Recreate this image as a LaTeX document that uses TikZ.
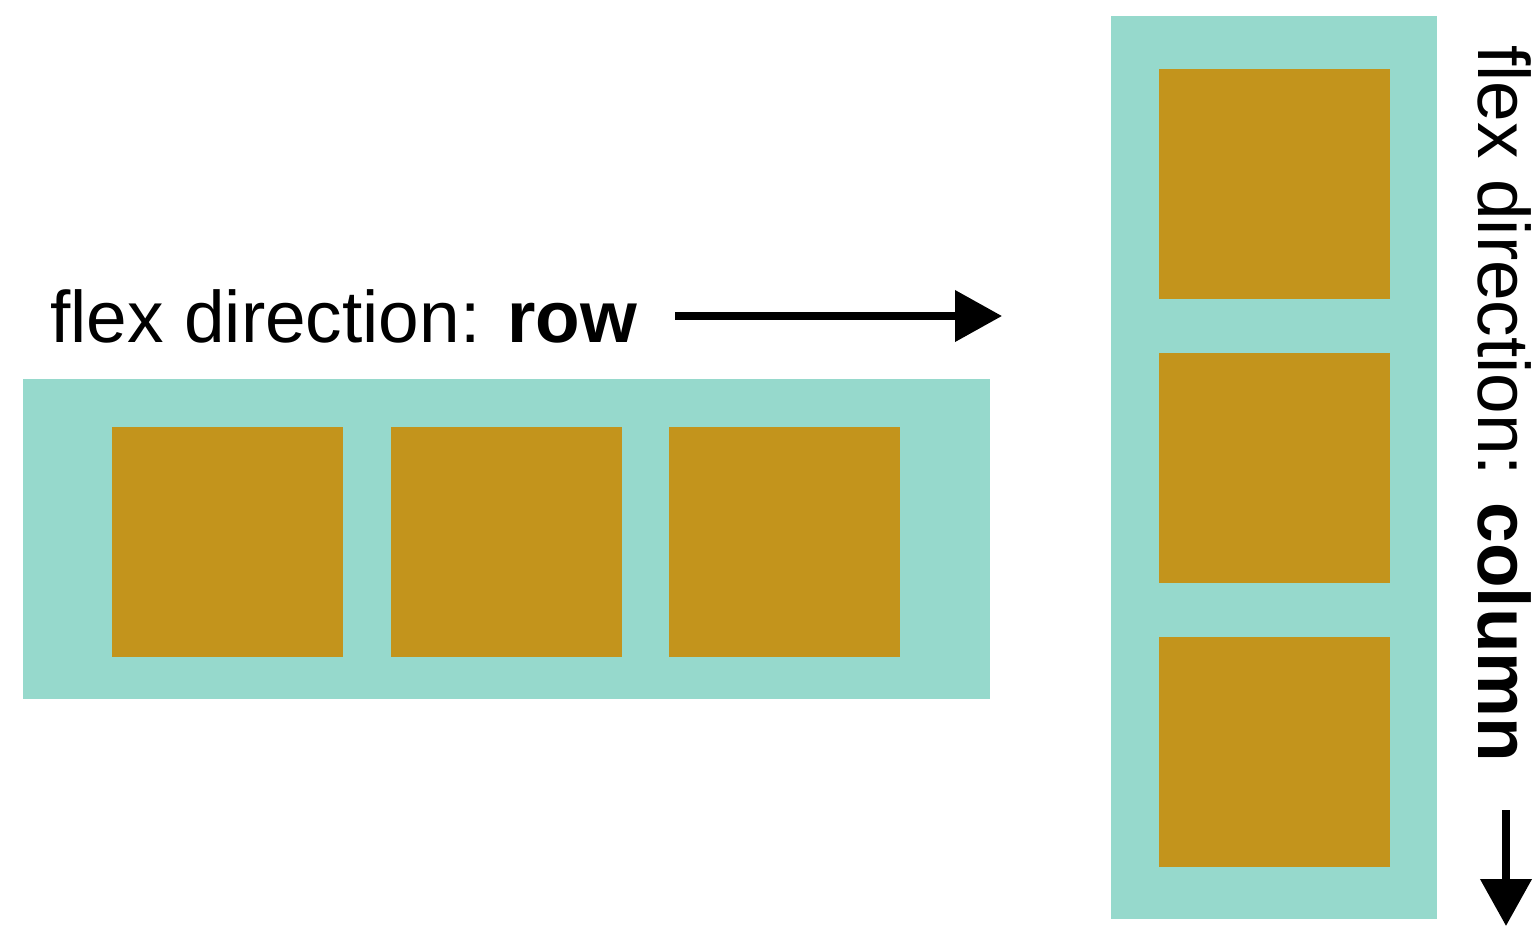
\documentclass[tikz,border=0pt]{standalone}
\usepackage{fontspec}
\setmainfont{Liberation Sans}
\usetikzlibrary{arrows.meta}
\definecolor{tealc}{HTML}{96D9CC}
\definecolor{brownc}{HTML}{C3941C}
\begin{document}
\begin{tikzpicture}[x=0.5pt,y=-0.5pt,
  container/.style={rectangle, fill=tealc, draw=none, inner sep=0pt},
  item/.style={rectangle, fill=brownc, draw=none, inner sep=0pt, minimum width=115.5pt, minimum height=115pt},
  lbl/.style={inner sep=0pt, font=\fontsize{36.5pt}{40pt}\selectfont},
  dirarrow/.style={line width=3.75pt, -{Triangle[length=23.5pt,width=25pt]}}]
\useasboundingbox (0,0) rectangle (1537,928);
% row container
\node[container, minimum width=483.5pt, minimum height=160pt] (row) at (506.5,539) {};
\node[item] (r1) at (227.5,542) {};
\node[item] (r2) at (506.5,542) {};
\node[item] (r3) at (784.5,542) {};
% column container
\node[container, minimum width=163pt, minimum height=451.5pt] (col) at (1274,467.5) {};
\node[item] (c1) at (1274,184) {};
\node[item] (c2) at (1274,468) {};
\node[item] (c3) at (1274,752) {};
% labels
\node[lbl, anchor=base west] (rowlbl) at (50,342) {flex direction: \textbf{row}};
\node[lbl, anchor=base west, rotate=-90] (collbl) at (1478,45) {flex direction: \textbf{column}};
% arrows
\coordinate (ra) at (675,316);
\coordinate (rb) at (1002,316);
\coordinate (ca) at (1506,810);
\coordinate (cb) at (1506,926);
\draw[dirarrow] (ra) -- (rb);
\draw[dirarrow] (ca) -- (cb);
\end{tikzpicture}
\end{document}
